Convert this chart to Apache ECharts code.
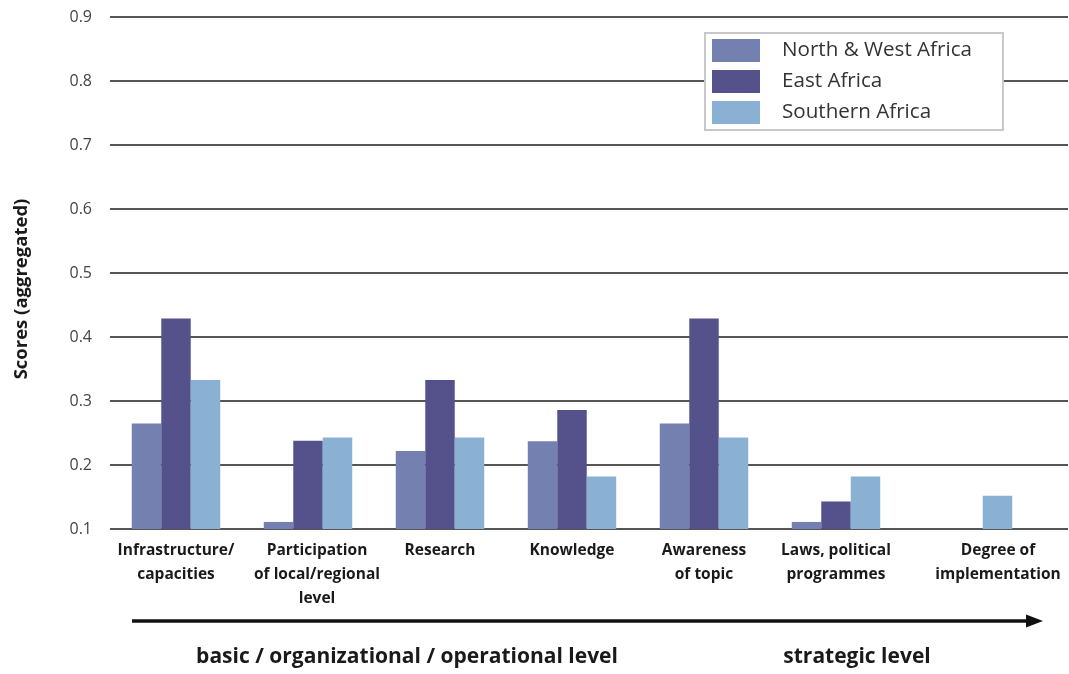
<!DOCTYPE html>
<html>
<head>
<meta charset="utf-8">
<script src="https://cdn.jsdelivr.net/npm/echarts@6/dist/echarts.min.js"></script>
<style>
  html, body { margin: 0; padding: 0; background: #fff; }
  #chart { width: 1069px; height: 674px; }
</style>
</head>
<body>
<div id="chart"></div>
<script>
// Aggregated scores by region and level of activity
const categories = [
  'Infrastructure/\ncapacities',
  'Participation\nof local/regional\nlevel',
  'Research',
  'Knowledge',
  'Awareness\nof topic',
  'Laws, political\nprogrammes',
  'Degree of\nimplementation'
];
const seriesNames = ['North & West Africa', 'East Africa', 'Southern Africa'];
const northWest = [0.265, 0.111, 0.222, 0.237, 0.265, 0.111, null];
const east      = [0.429, 0.238, 0.333, 0.286, 0.429, 0.143, null];
const southern  = [0.333, 0.243, 0.243, 0.182, 0.243, 0.182, 0.152];
const yTicks = [0.1, 0.2, 0.3, 0.4, 0.5, 0.6, 0.7, 0.8, 0.9];
const yAxisTitle = 'Scores (aggregated)';
const levelLabels = ['basic / organizational / operational level', 'strategic level'];

const colors = ['#7480b0', '#55518b', '#8ab1d3'];
const FONT = '"Open Sans", "Noto Sans", sans-serif';

// small horizontal nudges for a few category labels (left padding shifts centred text right by half)
const labelNudge = [0, 18, 0, 0, 0, 0, 60];

const chart = echarts.init(document.getElementById('chart'), null, { renderer: 'canvas' });

const yMin = yTicks[0], yMax = yTicks[yTicks.length - 1], yStep = 0.1;

chart.setOption({
  backgroundColor: '#fff',
  animation: false,
  color: colors,
  textStyle: { fontFamily: FONT },
  grid: [
    // bars
    { left: 110, right: 35, top: 17, bottom: 145, containLabel: false },
    // horizontal rules spanning the full width
    { left: 110, right: 1, top: 17, bottom: 145, containLabel: false }
  ],
  legend: {
    data: seriesNames,
    orient: 'vertical',
    left: 705,
    top: 33,
    itemWidth: 48,
    itemHeight: 23,
    itemGap: 8,
    padding: [6, 31, 6, 7],
    backgroundColor: '#fff',
    borderColor: '#c8c8c8',
    borderWidth: 2,
    icon: 'rect',
    textStyle: { fontFamily: FONT, fontSize: 20.6, color: '#333', padding: [0, 0, 0, 17] }
  },
  xAxis: [
    {
      type: 'category',
      gridIndex: 0,
      data: categories.map((c, i) => ({
        value: c,
        textStyle: { padding: [0, 0, 0, labelNudge[i]] }
      })),
      axisLine: { show: false },
      axisTick: { show: false },
      splitLine: { show: false },
      axisLabel: {
        interval: 0,
        margin: 10,
        fontFamily: FONT,
        fontSize: 15.5,
        fontWeight: 'bold',
        color: '#1a1a1a',
        lineHeight: 24
      }
    },
    {
      type: 'value',
      gridIndex: 1,
      show: false
    }
  ],
  yAxis: [
    {
      type: 'value',
      gridIndex: 0,
      min: yMin,
      max: yMax,
      interval: yStep,
      axisLine: { show: false },
      axisTick: { show: false },
      splitLine: { show: false },
      axisLabel: {
        margin: 18,
        fontFamily: FONT,
        fontSize: 16,
        color: '#444',
        formatter: v => v.toFixed(1)
      }
    },
    {
      type: 'value',
      gridIndex: 1,
      min: yMin,
      max: yMax,
      interval: yStep,
      axisLine: { show: false },
      axisTick: { show: false },
      axisLabel: { show: false },
      splitLine: { show: true, lineStyle: { color: '#1e1e1e', width: 1.7 } }
    }
  ],
  series: [
    { name: seriesNames[0], type: 'bar', xAxisIndex: 0, yAxisIndex: 0, data: northWest, barGap: '0%', barCategoryGap: '33%', z: 3 },
    { name: seriesNames[1], type: 'bar', xAxisIndex: 0, yAxisIndex: 0, data: east, barGap: '0%', barCategoryGap: '33%', z: 3 },
    { name: seriesNames[2], type: 'bar', xAxisIndex: 0, yAxisIndex: 0, data: southern, barGap: '0%', barCategoryGap: '33%', z: 3 }
  ],
  graphic: [
    // vertical axis title
    {
      type: 'text',
      x: 22, y: 289,
      rotation: Math.PI / 2,
      style: {
        text: yAxisTitle,
        font: 'bold 18.5px ' + FONT,
        fill: '#1a1a1a',
        align: 'center',
        verticalAlign: 'middle'
      }
    },
    // progression arrow from operational to strategic level
    {
      type: 'line',
      shape: { x1: 132, y1: 621, x2: 1030, y2: 621 },
      style: { stroke: '#111', lineWidth: 3.5 }
    },
    {
      type: 'polygon',
      shape: { points: [[1026, 614.5], [1043, 621], [1026, 627.5]] },
      style: { fill: '#111' }
    },
    {
      type: 'text',
      x: 407, y: 657,
      style: {
        text: levelLabels[0],
        font: 'bold 21px ' + FONT,
        fill: '#1a1a1a',
        align: 'center',
        verticalAlign: 'middle'
      }
    },
    {
      type: 'text',
      x: 857, y: 657,
      style: {
        text: levelLabels[1],
        font: 'bold 21px ' + FONT,
        fill: '#1a1a1a',
        align: 'center',
        verticalAlign: 'middle'
      }
    }
  ]
});
</script>
</body>
</html>
